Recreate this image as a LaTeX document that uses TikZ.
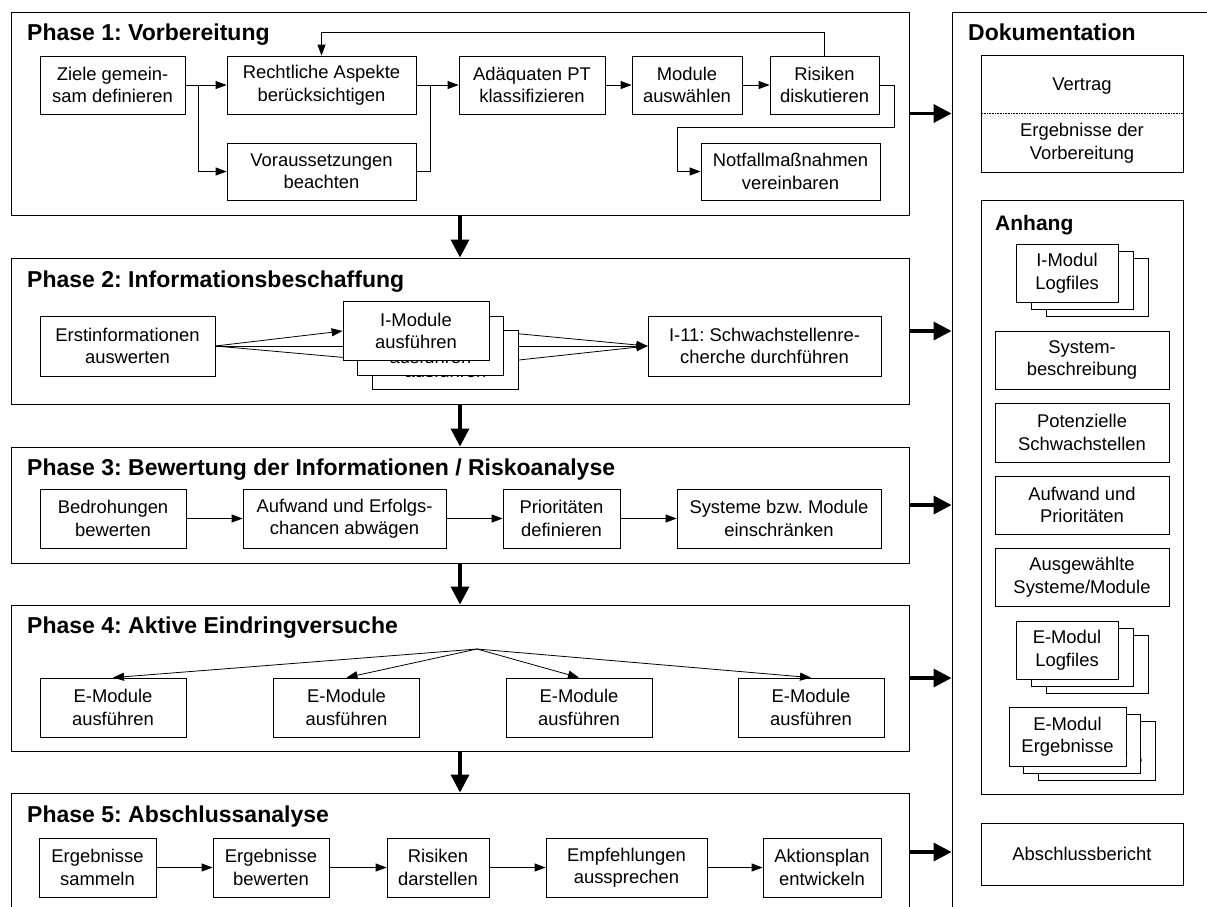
\documentclass[tikz,border=0pt]{standalone}
\usepackage{fontspec}
\setmainfont{Liberation Sans}
\usetikzlibrary{arrows.meta,backgrounds}
\frenchspacing
\begin{document}
\begin{tikzpicture}[x=1pt,y=-1pt,
 box/.style={draw, line width=0.8pt, fill=white, align=center, inner sep=0pt, font=\fontsize{18.4}{22.5}\selectfont},
 phase/.style={draw, line width=0.9pt, inner sep=0pt},
 title/.style={anchor=base west, inner sep=0pt, font=\bfseries\fontsize{23}{27}\selectfont},
 conn/.style={line width=0.8pt, -{Triangle[length=11pt,width=8pt]}},
 plain/.style={line width=0.8pt},
 big/.style={line width=3.5pt, -{Triangle[length=18pt,width=18pt]}},
]
\clip (0,0) rectangle (1207,906);
% phase frames
\node[phase, minimum width=898pt, minimum height=203pt] (ph1) at (460,113.5) {};
\node[phase, minimum width=898pt, minimum height=146pt] (ph2) at (460,331) {};
\node[phase, minimum width=898pt, minimum height=116pt] (ph3) at (460,505) {};
\node[phase, minimum width=898pt, minimum height=146pt] (ph4) at (460,678) {};
\node[phase, minimum width=898pt, minimum height=118pt] (ph5) at (460,852) {};
\node[phase, minimum width=263pt, minimum height=903pt] (doc) at (1083.5,463.5) {};
% titles
\node[title] (t1) at (27,40.5) {Phase 1: Vorbereitung};
\node[title] (t2) at (27,287) {Phase 2: Informationsbeschaffung};
\node[title] (t3) at (27,475.5) {Phase 3: Bewertung der Informationen / Riskoanalyse};
\node[title] (t4) at (27,633.5) {Phase 4: Aktive Eindringversuche};
\node[title] (t5) at (27,822) {Phase 5: Abschlussanalyse};
\node[title] (td) at (968,40) {Dokumentation};
% Phase 1
\node[box, minimum width=145pt, minimum height=58pt] (zie) at (112.5,85) {Ziele gemein-\\sam definieren};
\node[box, minimum width=189pt, minimum height=58pt] (rec) at (321.5,85) {Rechtliche Aspekte\\berücksichtigen};
\node[box, minimum width=189pt, minimum height=57pt] (vor) at (321.5,171.5) {Voraussetzungen\\beachten};
\node[box, minimum width=146pt, minimum height=58pt] (ada) at (532,85) {Adäquaten PT\\klassifizieren};
\node[box, minimum width=110pt, minimum height=58pt] (mod) at (687,85) {Module\\auswählen};
\node[box, minimum width=109pt, minimum height=58pt] (ris) at (824.5,85) {Risiken\\diskutieren};
\node[box, minimum width=179pt, minimum height=57pt] (not) at (790.5,171.5) {Notfallmaßnahmen\\vereinbaren};
\coordinate (b1) at (198,85);
\coordinate (b2) at (430,85);
\coordinate (c3) at (894,127);
\coordinate (c4) at (677,171.5);
\draw[conn] (zie.east) -- (rec.west);
\draw[conn] (b1) |- (vor.west);
\draw[conn] (rec.east) -- (ada.west);
\draw[plain] (vor.east) -| (b2);
\draw[conn] (ada.east) -- (mod.west);
\draw[conn] (mod.east) -- (ris.west);
\draw[conn] (ris.north) -- ++(0,-23) -| (rec.north);
\draw[conn] (ris.east) -| (c3) -| (c4) -- (not.west);
% Phase 2
\node[box, minimum width=175pt, minimum height=60pt] (erst) at (127.5,346) {Erstinformationen\\auswerten};
\node[box, minimum width=146pt, minimum height=59pt] (im3) at (445.5,360) {I-Module\\ausführen};
\node[box, minimum width=146pt, minimum height=59pt] (im2) at (430.5,346) {I-Module\\ausführen};
\node[box, minimum width=146pt, minimum height=59pt] (im1) at (416,331) {I-Module\\ausführen};
\node[box, minimum width=233pt, minimum height=60pt] (i11) at (764.5,346) {I-11: Schwachstellenre-\\cherche durchführen};
\begin{pgfonlayer}{background}
\draw[conn] (erst.east) -- (im1.west);
\draw[conn] (erst.east) -- (im2.west);
\draw[conn] (erst.east) -- (im3.west);
\draw[conn] (im1.east) -- (i11.west);
\draw[conn] (im2.east) -- (i11.west);
\draw[conn] (im3.east) -- (i11.west);
\end{pgfonlayer}
% Phase 3
\node[box, minimum width=146pt, minimum height=59pt] (bed) at (113,518.5) {Bedrohungen\\bewerten};
\node[box, minimum width=203pt, minimum height=59pt] (auf) at (344.5,518.5) {Aufwand und Erfolgs-\\chancen abwägen};
\node[box, minimum width=117pt, minimum height=59pt] (pri) at (561.5,518.5) {Prioritäten\\definieren};
\node[box, minimum width=204pt, minimum height=59pt] (sys) at (779,518.5) {Systeme bzw. Module\\einschränken};
\draw[conn] (bed.east) -- (auf.west);
\draw[conn] (auf.east) -- (pri.west);
\draw[conn] (pri.east) -- (sys.west);
% Phase 4
\node[box, minimum width=146pt, minimum height=59pt] (e1) at (113,707.5) {E-Module\\ausführen};
\node[box, minimum width=146pt, minimum height=59pt] (e2) at (346.5,707.5) {E-Module\\ausführen};
\node[box, minimum width=146pt, minimum height=59pt] (e3) at (579,707.5) {E-Module\\ausführen};
\node[box, minimum width=146pt, minimum height=59pt] (e4) at (811,707.5) {E-Module\\ausführen};
\coordinate (fan) at (477,649);
\draw[conn] (fan) -- (e1.north);
\draw[conn] (fan) -- (e2.north);
\draw[conn] (fan) -- (e3.north);
\draw[conn] (fan) -- (e4.north);
% Phase 5
\node[box, minimum width=117pt, minimum height=59pt] (p1) at (97.5,867.5) {Ergebnisse\\sammeln};
\node[box, minimum width=116pt, minimum height=59pt] (p2) at (271,867.5) {Ergebnisse\\bewerten};
\node[box, minimum width=102pt, minimum height=59pt] (p3) at (438,867.5) {Risiken\\darstellen};
\node[box, minimum width=161pt, minimum height=59pt] (p4) at (626.5,867.5) {Empfehlungen\\aussprechen};
\node[box, minimum width=118pt, minimum height=59pt] (p5) at (822,867.5) {Aktionsplan\\entwickeln};
\draw[conn] (p1.east) -- (p2.west);
\draw[conn] (p2.east) -- (p3.west);
\draw[conn] (p3.east) -- (p4.west);
\draw[conn] (p4.east) -- (p5.west);
% phase flow
\draw[big] (ph1.south) -- (ph2.north);
\draw[big] (ph2.south) -- (ph3.north);
\draw[big] (ph3.south) -- (ph4.north);
\draw[big] (ph4.south) -- (ph5.north);
\draw[big] (ph1.east) -- (ph1.east -| doc.west);
\draw[big] (ph2.east) -- (ph2.east -| doc.west);
\draw[big] (ph3.east) -- (ph3.east -| doc.west);
\draw[big] (ph4.east) -- (ph4.east -| doc.west);
\draw[big] (ph5.east) -- (ph5.east -| doc.west);
% Documentation
\node[box, minimum width=202pt, minimum height=117pt] (vb) at (1082,113.5) {};
\draw[line width=0.6pt, densely dotted] (vb.west) -- (vb.east);
\node[align=center, inner sep=0pt, font=\fontsize{18.4}{22.5}\selectfont] (vt) at (1082,86) {Vertrag};
\node[align=center, inner sep=0pt, font=\fontsize{18.4}{22.5}\selectfont] (ve) at (1082,143) {Ergebnisse der\\Vorbereitung};
\node[box, minimum width=202pt, minimum height=594pt] (anh) at (1082,497) {};
\node[title, font=\bfseries\fontsize{21}{25}\selectfont] (ta) at (995,230) {Anhang};
\node[box, minimum width=102pt, minimum height=58pt] (il3) at (1097,287) {I-Modul\\Logfiles};
\node[box, minimum width=102pt, minimum height=58pt] (il2) at (1082,280) {I-Modul\\Logfiles};
\node[box, minimum width=102pt, minimum height=58pt] (il1) at (1067,273) {I-Modul\\Logfiles};
\node[box, minimum width=174pt, minimum height=58pt] (sb) at (1082,360) {System-\\beschreibung};
\node[box, minimum width=174pt, minimum height=59pt] (ps) at (1082,432.5) {Potenzielle\\Schwachstellen};
\node[box, minimum width=174pt, minimum height=58pt] (ap) at (1082,505) {Aufwand und\\Prioritäten};
\node[box, minimum width=174pt, minimum height=58pt] (as) at (1082,577) {Ausgewählte\\Systeme/Module};
\node[box, minimum width=102pt, minimum height=58pt] (el3) at (1097,664) {E-Modul\\Logfiles};
\node[box, minimum width=102pt, minimum height=58pt] (el2) at (1082,657) {E-Modul\\Logfiles};
\node[box, minimum width=102pt, minimum height=58pt] (el1) at (1067,650) {E-Modul\\Logfiles};
\node[box, minimum width=117pt, minimum height=59pt] (er3) at (1096.5,750.5) {E-Modul\\Ergebnisse};
\node[box, minimum width=117pt, minimum height=59pt] (er2) at (1082,743.5) {E-Modul\\Ergebnisse};
\node[box, minimum width=117pt, minimum height=59pt] (er1) at (1067.5,736.5) {E-Modul\\Ergebnisse};
\node[box, minimum width=202pt, minimum height=62pt] (ab) at (1082,854) {Abschlussbericht};
\end{tikzpicture}
\end{document}
